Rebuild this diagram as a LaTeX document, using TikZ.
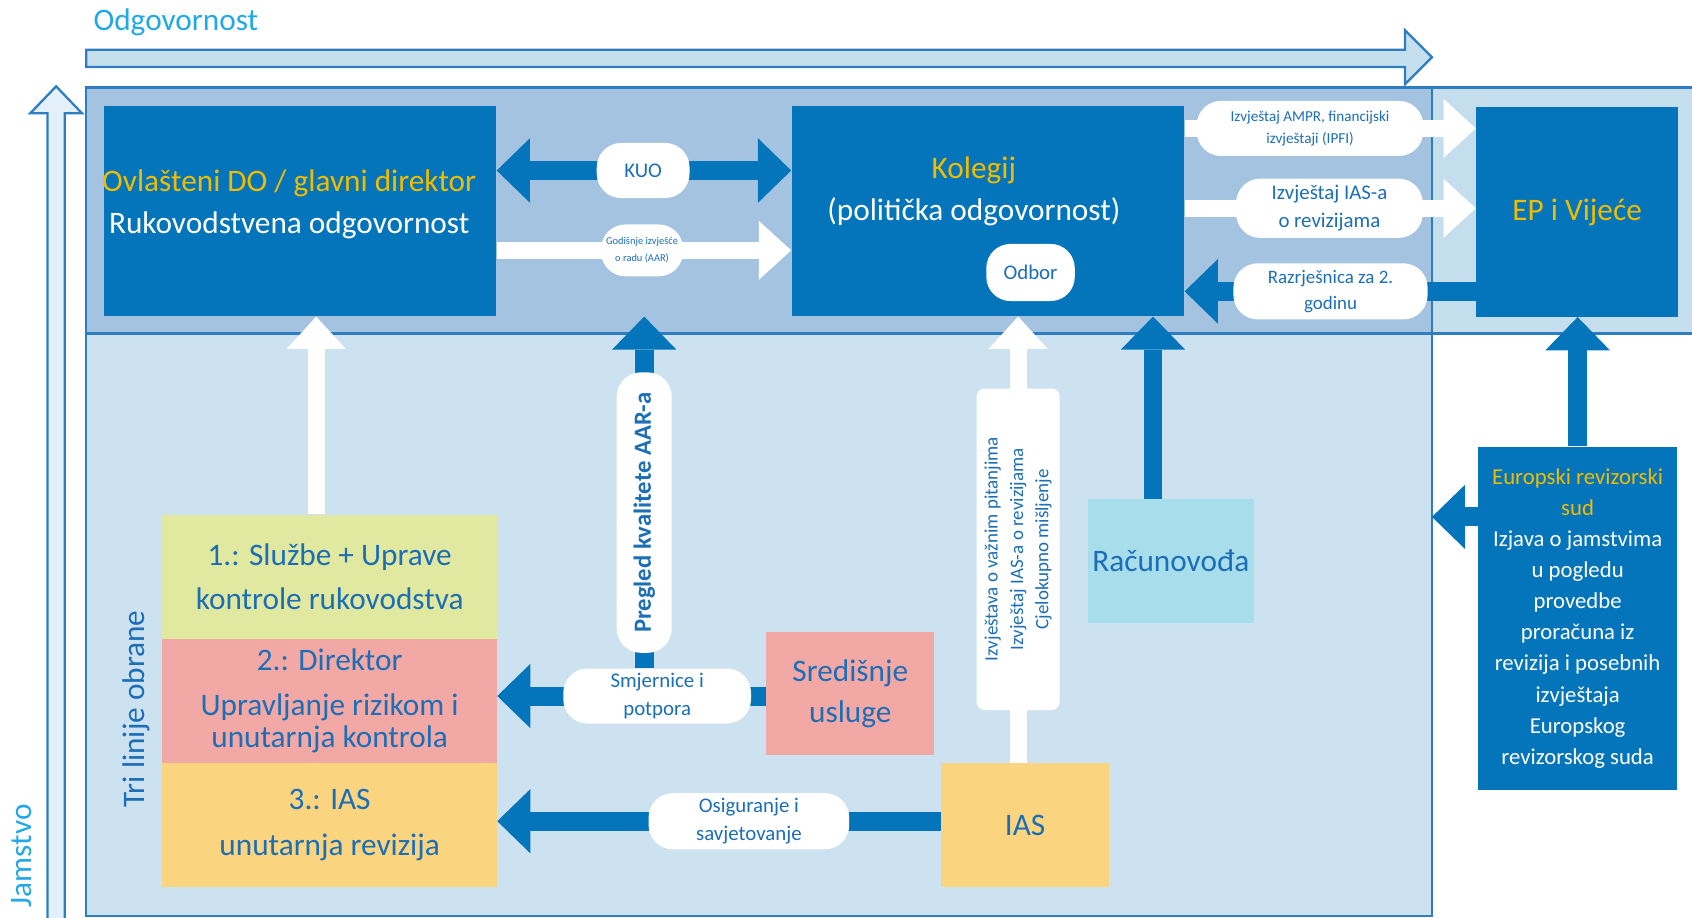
\documentclass[tikz,border=0pt]{standalone}
\usepackage{fontspec}
\setmainfont{Carlito}
\usetikzlibrary{arrows.meta}

\definecolor{ecblue}{RGB}{4,117,186}
\definecolor{bandblue}{RGB}{164,195,225}
\definecolor{bandlight}{RGB}{196,222,238}
\definecolor{lowblue}{RGB}{204,226,240}
\definecolor{frameline}{RGB}{46,125,193}
\definecolor{arrowfill}{RGB}{197,223,239}
\definecolor{upfill}{RGB}{228,240,249}
\definecolor{capblue}{RGB}{32,168,232}
\definecolor{txtblue}{RGB}{28,110,182}
\definecolor{ecyellow}{RGB}{240,188,0}
\definecolor{linegreen}{RGB}{225,232,160}
\definecolor{linepink}{RGB}{242,169,166}
\definecolor{lineorange}{RGB}{250,212,127}
\definecolor{linecyan}{RGB}{168,221,236}

\newcommand{\fsbig}{\fontsize{16.5pt}{22pt}\selectfont}
\newcommand{\fsmid}{\fontsize{11pt}{14.5pt}\selectfont}
\newcommand{\fseca}{\fontsize{12pt}{16.4pt}\selectfont}
\newcommand{\fssmall}{\fontsize{8pt}{12pt}\selectfont}
\newcommand{\fsrot}{\fontsize{10pt}{13.4pt}\selectfont}

\pgfdeclarelayer{bg}
\pgfdeclarelayer{arr}
\pgfsetlayers{bg,arr,main}

\tikzset{
  darkbox/.style={fill=ecblue, text=white, align=center, inner sep=0pt, font=\fsbig},
  linebox/.style={fill=#1, text=txtblue, align=center, inner sep=0pt, font=\fsbig},
  pill/.style={fill=white, text=txtblue, align=center, inner sep=0pt, rounded corners=0.45cm, font=\fsmid},
  bluearr/.style={draw=ecblue, line width=10pt, >={Triangle[length=17.5pt,width=34pt,line width=0pt]}},
  whitearr/.style={draw=white, line width=9pt, >={Triangle[length=17pt,width=31pt,line width=0pt]}},
  bigarrow/.style={draw=frameline, line width=1.2pt},
}

\begin{document}
\begin{tikzpicture}[x=0.02cm, y=-0.02cm]
  \useasboundingbox (0,0) rectangle (1568,850);

  % frame
  \begin{pgfonlayer}{bg}
    \fill[bandblue] (80,81) rectangle (1327,309);
    \fill[bandlight] (1327,81) rectangle (1568,309);
    \fill[lowblue] (80,309) rectangle (1327,849);
    \draw[frameline, line width=1.2pt] (1570,81) -- (80,81) -- (80,849) -- (1327,849) -- (1327,81);
    \draw[frameline, line width=1.2pt] (80,309) -- (1570,309);
  \end{pgfonlayer}

  % odgovornost / jamstvo
  \draw[bigarrow, fill=arrowfill] (80,46) -- (1302,46) -- (1302,28) -- (1327,53) -- (1302,78) -- (1302,62) -- (80,62) -- cycle;
  \draw[bigarrow, fill=upfill] (44,855) -- (44,105) -- (28,105) -- (52,80) -- (76,105) -- (60,105) -- (60,855);
  \node[text=capblue, font=\fsbig] (odg) at (163,21) {Odgovornost};
  \node[text=capblue, font=\fsbig, rotate=90] (jam) at (20,793) {Jamstvo};

  % top row
  \node[darkbox, minimum width=7.28cm, minimum height=3.9cm] (ovl) at (278,195.5) {};
  \node[align=center, font=\fsbig, text=white] (ovlT) at ([xshift=-0.2cm,yshift=0.12cm]ovl.center)
    {\textcolor{ecyellow}{Ovlašteni DO / glavni direktor}\\Rukovodstvena odgovornost};
  \node[darkbox, minimum width=7.28cm, minimum height=3.9cm] (kol) at (915.5,195.5) {};
  \node[align=center, font=\fsbig, text=white] (kolT) at ([xshift=-0.26cm,yshift=0.37cm]kol.center)
    {\textcolor{ecyellow}{Kolegij}\\(politička odgovornost)};
  \node[pill, minimum width=1.64cm, minimum height=1.06cm] (odbor) at (955,252.5) {Odbor};
  \node[darkbox, text=ecyellow, minimum width=3.74cm, minimum height=3.88cm] (ep) at (1461.5,196.5) {EP i Vijeće};

  % labels in the band
  \node[pill, minimum width=1.72cm, minimum height=1.02cm] (kuo) at (596,158) {KUO};
  \node[pill, minimum width=1.52cm, minimum height=0.96cm, font=\fontsize{5.5pt}{9pt}\selectfont] (aar) at (595,232) {Godišnje izvješće\\o radu (AAR)};
  \node[pill, minimum width=4.2cm, minimum height=1.02cm, font=\fssmall] (ampr) at (1214,119) {Izvještaj AMPR, financijski\\izvještaji (IPFI)};
  \node[pill, minimum width=3.46cm, minimum height=1.1cm] (iasrep) at (1232,193) {Izvještaj IAS-a\\o revizijama};
  \node[pill, minimum width=3.6cm, minimum height=1.04cm, font=\fontsize{10pt}{13.5pt}\selectfont] (razr) at (1233,270) {Razrješnica za 2.\\godinu};

  % three lines of defence
  \node[linebox=linegreen, minimum width=6.2cm, minimum height=2.3cm] (l1) at (305.5,534.5) {1.: Službe + Uprave\\[1pt]kontrole rukovodstva};
  \node[linebox=linepink, minimum width=6.2cm, minimum height=2.3cm] (l2) at (305.5,649.5) {2.: Direktor\\[2pt]Upravljanje rizikom i\\[-5pt]unutarnja kontrola};
  \node[linebox=lineorange, minimum width=6.2cm, minimum height=2.3cm] (l3) at (305.5,764.5) {3.: IAS\\[2pt]unutarnja revizija};
  \node[text=txtblue, font=\fsbig, rotate=90] (tri) at (126,657) {Tri linije obrane};

  % services
  \node[linebox=linepink, minimum width=3.12cm, minimum height=2.28cm] (sred) at (788,643) {Središnje\\usluge};
  \node[linebox=linecyan, minimum width=3.08cm, minimum height=2.3cm] (racun) at (1085,520) {Računovođa};
  \node[linebox=lineorange, minimum width=3.12cm, minimum height=2.3cm] (ias) at (950,764.5) {IAS};
  \node[darkbox, font=\fseca, minimum width=3.68cm, minimum height=6.36cm] (eca) at (1462,573)
    {\textcolor{ecyellow}{Europski revizorski}\\\textcolor{ecyellow}{sud}\\Izjava o jamstvima\\u pogledu\\provedbe\\proračuna iz\\revizija i posebnih\\izvještaja\\Europskog\\revizorskog suda};
  \coordinate (ecatip) at (1327,479);

  \node[pill, rotate=90, minimum width=5.2cm, minimum height=1.02cm, font=\bfseries\fontsize{13pt}{16pt}\selectfont] (preg) at (597,475) {Pregled kvalitete AAR-a};
  \node[pill, minimum width=3.48cm, minimum height=1.02cm] (smj) at (609,645) {Smjernice i\\potpora};
  \node[pill, minimum width=3.72cm, minimum height=1.04cm] (osig) at (694,761) {Osiguranje i\\savjetovanje};
  \node[pill, rotate=90, rounded corners=0.15cm, minimum width=5.96cm, minimum height=1.54cm, font=\fsrot] (ialab) at (943.5,509)
    {Izvještava o važnim pitanjima\\Izvještaj IAS-a o revizijama\\Cjelokupno mišljenje};

  % connectors
  \begin{pgfonlayer}{arr}
    \draw[bluearr, <->] (ovl.east |- kuo) -- (kol.west |- kuo);
    \draw[whitearr, ->] (ovl.east |- aar) -- (kol.west |- aar);
    \draw[whitearr, ->] (kol.east |- ampr) -- (ep.west |- ampr);
    \draw[whitearr, ->] (kol.east |- iasrep) -- (ep.west |- iasrep);
    \draw[bluearr, ->] (ep.west |- razr) -- (kol.east |- razr);
    \draw[whitearr, ->] ([xshift=-0.25cm]l1.north) -- ([xshift=-0.25cm]l1.north |- ovl.south);
    \draw[bluearr, ->] (smj.north -| preg) -- (preg |- ovl.south);
    \draw[bluearr, ->] (sred.west |- smj) -- (l2.east |- smj);
    \draw[bluearr, ->] (ias.west |- osig) -- (l3.east |- osig);
    \draw[whitearr, ->] (ias.north -| ialab) -- (ialab |- kol.south);
    \draw[bluearr, ->] ([xshift=-0.33cm]racun.north) -- ([xshift=-0.33cm]racun.north |- kol.south);
    \draw[bluearr, ->] (eca.north) -- (eca.north |- ep.south);
    \draw[bluearr, ->] (eca.west |- ecatip) -- (ecatip);
  \end{pgfonlayer}

\end{tikzpicture}
\end{document}
